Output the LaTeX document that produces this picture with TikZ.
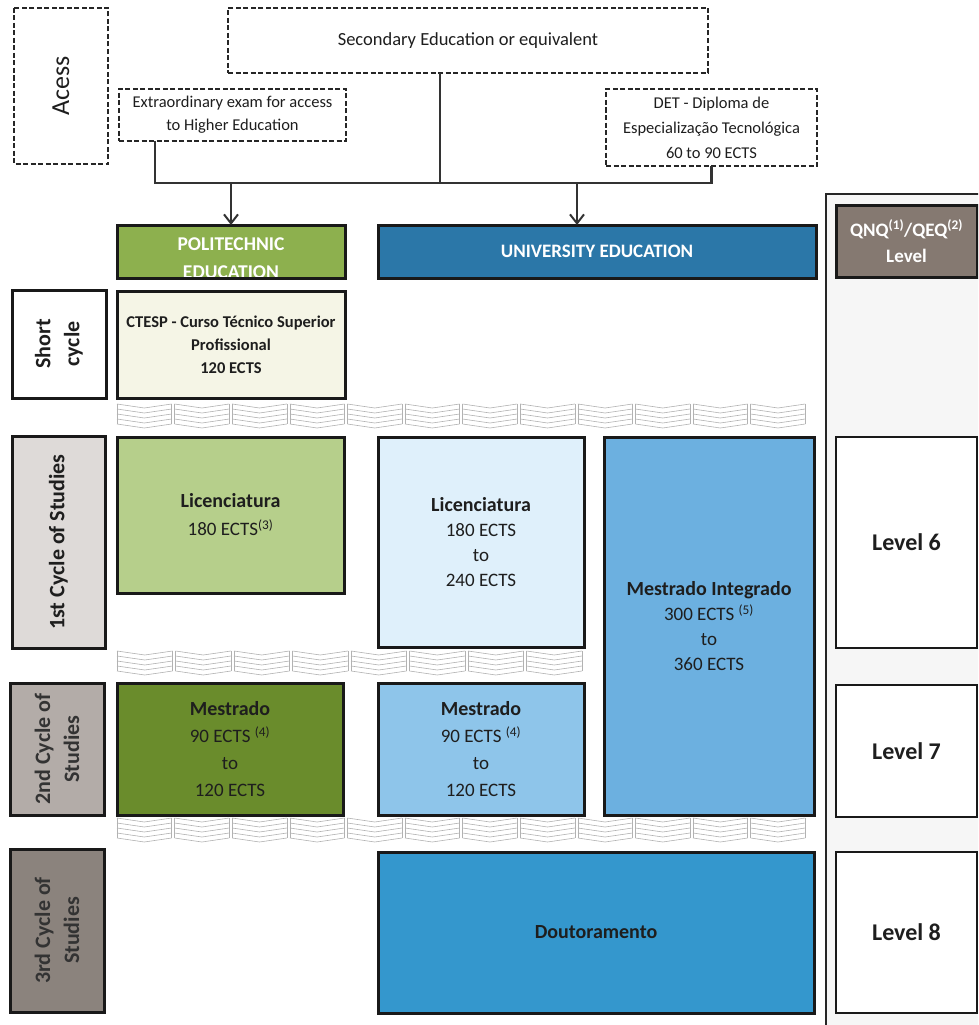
\documentclass[tikz,border=0pt]{standalone}
\usepackage{fontspec}
\setmainfont{Carlito}
\usetikzlibrary{arrows.meta}
\definecolor{polyhdr}{HTML}{8DB04E}
\definecolor{univhdr}{HTML}{2B77A8}
\definecolor{qnqc}{HTML}{857971}
\definecolor{ctespc}{HTML}{F5F5E6}
\definecolor{polylic}{HTML}{B6CF8B}
\definecolor{polymes}{HTML}{6A8C2C}
\definecolor{univlic}{HTML}{DFF0FB}
\definecolor{univmes}{HTML}{8EC5EA}
\definecolor{mestint}{HTML}{6CB0E0}
\definecolor{doutc}{HTML}{3497CD}
\definecolor{lblone}{HTML}{DEDAD8}
\definecolor{lbltwo}{HTML}{B3ACA8}
\definecolor{lblthree}{HTML}{8B837D}
\definecolor{colbg}{HTML}{F6F6F6}
\definecolor{inkc}{HTML}{1E1E1E}
\newcommand\sepband[4]{%
  \foreach \k in {1,...,#3}{%
    \pgfmathsetmacro\xa{#1+(\k-1)*#4}%
    \pgfmathsetmacro\xb{\xa+#4-3}%
    \pgfmathsetmacro\xm{(\xa+\xb)/2}%
    \foreach \j in {0,...,4}{%
      \pgfmathsetmacro\yy{#2+\j*5}%
      \draw[sepline] (\xa,\yy) -- (\xm,\yy+4) -- (\xb,\yy);
    }%
    \draw[sepline] (\xa,#2) -- (\xa,#2+20);
    \draw[sepline] (\xb,#2) -- (\xb,#2+20);
  }}
\begin{document}
\begin{tikzpicture}[x=1pt,y=-1pt,
  dashbox/.style={draw=black!85, line width=1.6pt, dash pattern=on 5pt off 2.5pt, fill=white, inner sep=0pt, outer sep=0pt, align=center, text=inkc},
  box/.style={draw=black!90, line width=3pt, inner sep=0pt, outer sep=0pt, align=center, text=inkc},
  lvl/.style={draw=black!90, line width=2.4pt, fill=white, inner sep=0pt, outer sep=0pt, align=center, text=inkc, font=\fontsize{24}{28}\selectfont\bfseries},
  body/.style={font=\fontsize{19}{25}\selectfont},
  rlbl/.style={box, rotate=90, font=\fontsize{22}{29}\selectfont\bfseries},
  hdrtxt/.style={text=white, align=center, inner sep=0pt, font=\fontsize{19.5}{28}\selectfont\bfseries},
  conn/.style={draw=black!80, line width=2.4pt},
  arr/.style={conn, -{Straight Barb[length=9pt,width=14pt,line width=2pt]}},
  sepline/.style={draw=black!30, line width=0.6pt}
]
\useasboundingbox (0,0) rectangle (978,1025);
\clip (0,0) rectangle (978,1025);
\fill[white] (0,0) rectangle (978,1025);

% right column
\fill[colbg] (826,194) rectangle (990,1030);
\draw[black!85, line width=2pt] (826,1030) -- (826,194) -- (990,194);

% access area
\node[dashbox, rotate=90, minimum width=156, minimum height=94, font=\fontsize{26}{30}\selectfont] (acess) at (61,86) {Acess};
\node[dashbox, minimum width=480, minimum height=65, font=\fontsize{18.5}{23}\selectfont] (sec) at (468,40.5) {Secondary Education or equivalent};
\node[dashbox, minimum width=227, minimum height=52, font=\fontsize{16.5}{23}\selectfont] (extra) at (232.5,115) {Extraordinary exam for access\\to Higher Education};
\node[dashbox, minimum width=211, minimum height=77, font=\fontsize{16.5}{25}\selectfont] (det) at (711.5,127.5) {DET - Diploma de\\Especialização Tecnológica\\60 to 90 ECTS};

% headers
\node[box, fill=polyhdr, minimum width=228, minimum height=53] (poly) at (231,251.5) {};
\node[hdrtxt] (polytxt) at (231,258) {POLITECHNIC\\EDUCATION};
\draw[black!90, line width=3pt] (poly.south west) rectangle (poly.north east);
\node[box, fill=univhdr, minimum width=438, minimum height=53, text=white, font=\fontsize{19}{24}\selectfont\bfseries] (univ) at (597,251.5) {UNIVERSITY EDUCATION};
\node[box, fill=qnqc, minimum width=141, minimum height=72, text=white, font=\fontsize{19}{26}\selectfont\bfseries] (qnq) at (906.5,241) {QNQ\textsuperscript{(1)}/QEQ\textsuperscript{(2)}\\Level};

% connectors
\coordinate (hl) at (155,183);
\coordinate (hr) at (711.5,183);
\coordinate (hs) at (440,183);
\coordinate (ap) at (231,183);
\coordinate (au) at (577,183);
\draw[conn, line join=miter] (extra.south -| hl) -- (hl) -- (hr) -- (det.south);
\draw[conn] (sec.south -| hs) -- (hs);
\draw[arr] (ap) -- (poly.north);
\draw[arr] (au) -- (univ.north -| au);

% short cycle
\node[rlbl, fill=white, minimum width=108, minimum height=94] (short) at (59,344) {Short\\cycle};
\node[box, fill=ctespc, minimum width=228, minimum height=107, font=\fontsize{16.5}{23}\selectfont\bfseries] (ctesp) at (231,344.5) {CTESP - Curso Técnico Superior\\Profissional\\120 ECTS};

% separators
\sepband{117}{404}{12}{57.6}
\sepband{117}{651}{8}{58.5}
\sepband{117}{818}{12}{57.6}

% first cycle
\node[rlbl, fill=lblone, minimum width=212, minimum height=93] (c1) at (58.5,542) {1st Cycle of Studies};
\node[box, body, fill=polylic, minimum width=227, minimum height=156] (plic) at (230.5,515) {{\fontsize{20}{25}\selectfont\bfseries Licenciatura}\\[3pt]180 ECTS\textsuperscript{(3)}};
\node[box, body, fill=univlic, minimum width=206, minimum height=210] (ulic) at (481,542) {{\fontsize{20}{25}\selectfont\bfseries Licenciatura}\\180 ECTS\\to\\240 ECTS};
\node[box, body, fill=mestint, minimum width=210, minimum height=378] (mint) at (709,626) {{\fontsize{20}{25}\selectfont\bfseries Mestrado Integrado}\\300 ECTS \textsuperscript{(5)}\\to\\360 ECTS};
\node[lvl, minimum width=141, minimum height=211] (l6) at (906.5,542.5) {Level 6};

% second cycle
\node[rlbl, fill=lbltwo, minimum width=132, minimum height=94, text=black!80] (c2) at (57,749) {2nd Cycle of\\Studies};
\node[box, fill=polymes, minimum width=226, minimum height=132, font=\fontsize{19}{27}\selectfont] (pmes) at (230,749) {{\fontsize{20}{27}\selectfont\bfseries Mestrado}\\90 ECTS \textsuperscript{(4)}\\to\\120 ECTS};
\node[box, fill=univmes, minimum width=206, minimum height=132, font=\fontsize{19}{27}\selectfont] (umes) at (481,749) {{\fontsize{20}{27}\selectfont\bfseries Mestrado}\\90 ECTS \textsuperscript{(4)}\\to\\120 ECTS};
\node[lvl, minimum width=141, minimum height=132] (l7) at (906.5,751) {Level 7};

% third cycle
\node[rlbl, fill=lblthree, minimum width=163, minimum height=94, text=black!80] (c3) at (57,930.5) {3rd Cycle of\\Studies};
\node[box, fill=doutc, minimum width=436, minimum height=161, font=\fontsize{20}{25}\selectfont\bfseries] (dout) at (596,932.5) {Doutoramento};
\node[lvl, minimum width=141, minimum height=161] (l8) at (906.5,932.5) {Level 8};
\end{tikzpicture}
\end{document}
